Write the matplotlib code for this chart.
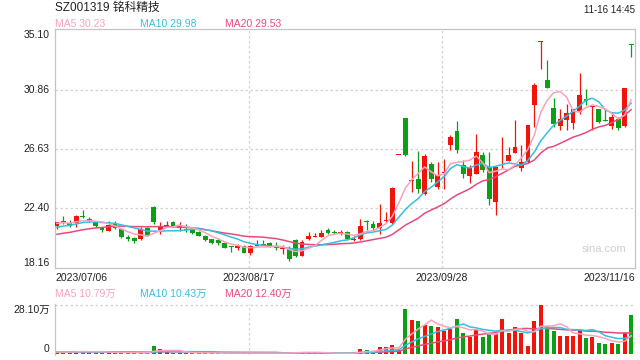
import numpy as np
import pandas as pd
import matplotlib
matplotlib.use('Agg')
import matplotlib.pyplot as plt
import matplotlib.transforms as mtransforms

plt.rcParams['font.family'] = ['Liberation Sans', 'Noto Sans CJK SC', 'DejaVu Sans']

RED = '#f0140a'
GREEN = '#0b9f16'
C_MA5 = '#f8a3bd'
C_MA10 = '#35bfe0'
C_MA20 = '#e94a7e'
GRID = '#d2d2d2'
FRAME = '#c4c4c4'

title = 'SZ001319 铭科精技'
stamp = '11-16 14:45'
date_labels = ['2023/07/06', '2023/08/17', '2023/09/28', '2023/11/16']
date_idx = [0, 30, 60, 89]
price_ticks = [18.16, 22.40, 26.63, 30.86, 35.10]
vol_top = 28.10
ma_text = ['MA5 30.23', 'MA10 29.98', 'MA20 29.53']
vol_ma_text = ['MA5 10.79万', 'MA10 10.43万', 'MA20 12.40万']

opens = [21.14, 21.52, 21.34, 21.34, 21.88, 21.66, 21.43, 21.03, 20.81, 21.34,
         20.91, 20.38, 20.27, 20.22, 21.03, 22.52, 20.86, 21.10, 21.45, 20.98,
         20.93, 20.86, 20.69, 20.43, 20.20, 20.15, 19.95, 19.72, 19.60, 19.74,
         19.24, 19.74, 19.84, 19.91, 19.63, 19.50, 19.60, 20.15, 19.01, 20.22,
         20.39, 20.39, 20.86, 20.69, 20.62, 20.69, 20.13, 20.20, 21.52, 21.28,
         20.98, 21.50, 21.33, 26.21, 28.83, 24.35, 24.49, 23.42, 25.56, 23.94,
         24.94, 26.91, 27.91, 25.49, 24.71, 24.85, 26.20, 25.37, 22.88, 25.95,
         25.77, 26.37, 25.30, 25.73, 29.76, 34.26, 31.54, 29.52, 28.29, 28.69,
         28.50, 29.28, 30.17, 29.60, 29.48, 28.69, 28.29, 28.74, 28.26, 34.08]
highs = [21.45, 21.86, 21.57, 21.90, 22.28, 21.75, 21.50, 21.10, 21.52, 21.50,
         20.98, 20.52, 20.35, 21.05, 21.10, 22.60, 21.41, 21.52, 21.50, 21.40,
         21.28, 20.93, 20.76, 20.50, 20.25, 20.30, 20.00, 19.74, 19.84, 19.79,
         19.76, 20.15, 20.15, 19.98, 19.98, 19.79, 19.72, 20.20, 20.15, 20.69,
         20.62, 20.86, 20.98, 20.86, 20.86, 20.76, 20.45, 21.62, 21.55, 21.52,
         22.71, 22.16, 23.90, 26.21, 28.83, 25.77, 26.51, 26.28, 25.72, 25.72,
         25.89, 27.60, 28.64, 25.84, 25.49, 27.67, 26.44, 26.44, 25.37, 27.46,
         26.79, 28.69, 26.91, 28.34, 31.30, 34.30, 32.96, 30.24, 29.48, 29.83,
         29.48, 32.02, 30.88, 29.66, 29.48, 29.48, 29.28, 28.90, 30.95, 34.10]
lows = [20.93, 21.30, 21.10, 21.07, 21.70, 21.40, 21.10, 20.72, 20.75, 20.90,
        20.30, 20.10, 19.96, 20.15, 20.45, 21.30, 20.55, 21.05, 21.10, 20.80,
        20.72, 20.60, 20.40, 20.05, 19.85, 19.80, 19.55, 19.27, 19.45, 19.20,
        19.05, 19.70, 19.70, 19.65, 19.45, 19.15, 18.65, 18.95, 19.01, 20.15,
        20.35, 20.35, 20.60, 20.55, 20.50, 20.15, 20.05, 20.15, 20.86, 20.86,
        20.60, 21.33, 21.28, 26.21, 26.15, 23.59, 23.52, 23.35, 24.30, 23.76,
        23.76, 26.56, 26.32, 24.54, 24.20, 24.85, 24.99, 22.64, 21.93, 25.25,
        25.77, 26.32, 25.09, 25.62, 28.21, 32.30, 30.99, 28.21, 27.98, 27.98,
        28.05, 29.10, 29.76, 27.98, 28.50, 28.62, 28.05, 27.98, 28.17, 33.16]
closes = [21.45, 21.34, 21.14, 21.88, 21.75, 21.49, 21.17, 20.86, 21.22, 20.98,
          20.38, 20.20, 20.08, 20.91, 20.50, 21.41, 21.10, 21.22, 21.17, 21.14,
          20.86, 20.67, 20.45, 20.15, 19.91, 19.91, 19.60, 19.68, 19.72, 19.24,
          19.72, 19.84, 19.74, 19.72, 19.55, 19.53, 18.80, 19.01, 20.01, 20.43,
          20.45, 20.67, 20.67, 20.62, 20.69, 20.22, 20.20, 21.14, 21.45, 20.98,
          21.38, 21.57, 23.83, 26.21, 26.20, 24.42, 23.76, 26.15, 24.49, 24.77,
          25.00, 27.51, 26.56, 24.85, 25.25, 26.44, 25.13, 23.04, 25.37, 26.01,
          26.20, 26.75, 25.68, 28.34, 31.18, 34.30, 30.99, 28.38, 28.74, 29.17,
          29.48, 30.47, 30.05, 29.66, 28.57, 28.62, 28.88, 28.15, 30.95, 34.05]
# volume in 万
volumes = [1.5, 1.1, 1.1, 2.0, 2.0, 1.1, 1.1, 1.0, 1.2, 1.0,
           0.9, 0.8, 0.8, 1.0, 0.8, 4.8, 3.0, 1.2, 1.0, 0.9,
           0.8, 0.8, 0.8, 0.8, 0.7, 0.7, 0.7, 0.7, 0.7, 0.7,
           0.8, 0.7, 0.6, 0.7, 0.6, 0.7, 1.1, 1.3, 1.5, 0.9,
           0.7, 0.7, 0.6, 0.6, 0.6, 0.7, 0.6, 3.0, 2.5, 1.5,
           4.4, 4.4, 5.4, 2.5, 26.0, 19.7, 18.7, 16.8, 16.2, 15.3,
           13.0, 14.5, 20.2, 12.4, 9.6, 13.9, 10.1, 11.6, 11.5, 20.2,
           12.4, 15.3, 12.4, 4.8, 19.1, 28.1, 15.9, 13.4, 10.5, 10.5,
           10.5, 13.6, 9.2, 9.9, 6.7, 5.9, 6.7, 5.9, 12.0, 22.5]
# the 19 sessions before 07/06, estimated from where the MA lines start
pre_closes = [19.8, 19.9, 20.0, 19.9, 20.1, 20.0, 20.2, 20.1, 20.2, 20.3,
              20.5, 20.6, 20.8, 20.9, 21.05, 21.1, 21.3, 21.4, 21.4]
pre_volumes = [1.3, 1.3, 1.2, 1.3, 1.4, 1.2, 1.3, 1.2, 1.3, 1.2,
               1.3, 1.2, 1.4, 1.3, 1.2, 1.3, 1.2, 1.3, 1.2]

n = len(closes)
x = np.arange(n)
o = np.array(opens); h = np.array(highs); l = np.array(lows); c = np.array(closes)
up = c >= o
cols = np.where(up, RED, GREEN)

npre = len(pre_closes)
cs = pd.Series(pre_closes + closes)
vs = pd.Series(pre_volumes + volumes)
ma = {k: cs.rolling(k).mean().values[npre:] for k in (5, 10, 20)}
vma = {k: vs.rolling(k).mean().values[npre:] for k in (5, 10, 20)}

W, H = 640, 360
fig = plt.figure(figsize=(6.4, 3.6), dpi=100)
ax = fig.add_axes([55 / W, 1 - 268 / H, 580 / W, 239 / H])
axv = fig.add_axes([55 / W, 1 - 355 / H, 580 / W, 51 / H])

xl = (-0.3, n - 0.4)

# price panel
for v in price_ticks[1:-1]:
    ax.axhline(v, color=GRID, ls=(0, (2, 2)), lw=0.9, zorder=0)
for i in date_idx[1:3]:
    ax.axvline(i - 0.3, color=GRID, ls=(0, (2, 2)), lw=0.9, zorder=0)
ax.vlines(x, l, h, colors=cols, lw=0.9, zorder=2)
ax.bar(x, np.maximum(np.abs(c - o), 0.05), bottom=np.minimum(o, c), width=0.74,
       color=cols, zorder=3)
ax.plot(x, ma[20], color=C_MA20, lw=1.1, zorder=4)
ax.plot(x, ma[10], color=C_MA10, lw=1.1, zorder=4)
ax.plot(x, ma[5], color=C_MA5, lw=1.1, zorder=4)
ax.set_xlim(*xl)
ax.set_ylim(price_ticks[0] - 0.01, price_ticks[-1] + 0.07)
ax.set_xticks([]); ax.set_yticks([])
for s in ax.spines.values():
    s.set_color(FRAME); s.set_linewidth(0.9)

tr = mtransforms.blended_transform_factory(ax.transAxes, ax.transData)
for k, v in enumerate(price_ticks):
    va = 'bottom' if k == 0 else ('top' if k == len(price_ticks) - 1 else 'center')
    ax.text(-0.009, v, '%.2f' % v, transform=tr, ha='right', va=va, fontsize=7.5, color='#222222')

trx = mtransforms.blended_transform_factory(ax.transData, ax.transAxes)
for k, (i, lab) in enumerate(zip(date_idx, date_labels)):
    if k == 0:
        ax.text(0, -0.02, lab, transform=ax.transAxes, ha='left', va='top', fontsize=7.5, color='#222222')
    elif k == len(date_idx) - 1:
        ax.text(1, -0.02, lab, transform=ax.transAxes, ha='right', va='top', fontsize=7.5, color='#222222')
    else:
        ax.text(i - 0.3, -0.02, lab, transform=trx, ha='center', va='top', fontsize=7.5, color='#222222')

ax.text(0.985, 0.08, 'sina.com', transform=ax.transAxes, ha='right', va='center',
        fontsize=8, color='#cfcfcf')

# volume panel
axv.axhline(vol_top, color=GRID, ls=(0, (2, 2)), lw=0.9, zorder=0)
for i in date_idx[1:3]:
    axv.axvline(i - 0.3, color=GRID, ls=(0, (2, 2)), lw=0.9, zorder=0)
axv.axvline(xl[1], color=GRID, ls=(0, (2, 2)), lw=0.9, zorder=0)
axv.bar(x, volumes, width=0.62, color=cols, zorder=2)
axv.plot(x, vma[20], color=C_MA20, lw=1.1, zorder=3)
axv.plot(x, vma[10], color=C_MA10, lw=1.1, zorder=3)
axv.plot(x, vma[5], color=C_MA5, lw=1.1, zorder=3)
axv.set_xlim(*xl)
axv.set_ylim(-0.4, vol_top + 0.57)
axv.set_xticks([]); axv.set_yticks([])
for k, s in axv.spines.items():
    s.set_visible(k == 'left')
    s.set_color(FRAME); s.set_linewidth(0.9)
trv = mtransforms.blended_transform_factory(axv.transAxes, axv.transData)
axv.text(-0.009, vol_top, '%.2f万' % vol_top, transform=trv, ha='right', va='top', fontsize=7.5, color='#222222')
axv.text(-0.009, 0, '0', transform=trv, ha='right', va='bottom', fontsize=7.5, color='#222222')

# header texts
fig.text(55 / W, 1 - 8 / H, title, ha='left', va='center', fontsize=8.5, color='#222222')
fig.text(635 / W, 1 - 10 / H, stamp, ha='right', va='center', fontsize=7, color='#222222')
for xp, t, col in zip([55, 140, 225], ma_text, [C_MA5, C_MA10, C_MA20]):
    fig.text(xp / W, 1 - 24 / H, t, ha='left', va='center', fontsize=7.5, color=col)
for xp, t, col in zip([55, 140, 225], vol_ma_text, [C_MA5, C_MA10, C_MA20]):
    fig.text(xp / W, 1 - 294 / H, t, ha='left', va='center', fontsize=7.5, color=col)

fig.savefig('out.png', dpi=100)
